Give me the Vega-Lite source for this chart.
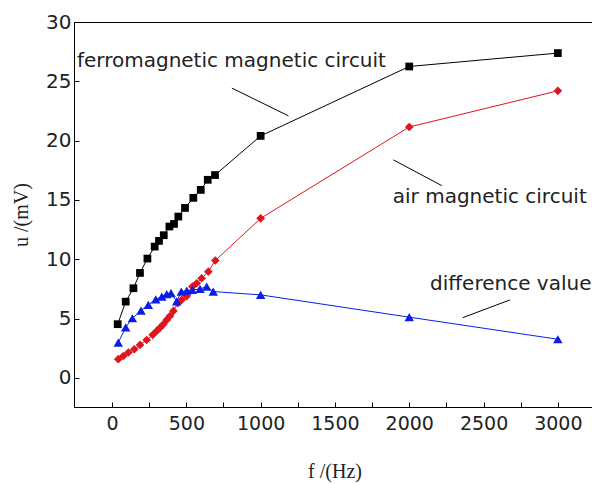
{
  "$schema": "https://vega.github.io/schema/vega-lite/v6.json",
  "autosize": "none",
  "width": 521,
  "height": 385,
  "padding": {"left": 74, "top": 22, "right": 0, "bottom": 77},
  "background": "white",
  "config": {
    "view": {"stroke": "black", "strokeWidth": 1},
    "axis": {
      "domainColor": "black", "tickColor": "black", "labelColor": "#222",
      "labelFont": "DejaVu Sans", "grid": false, "tickSize": -5,
      "titleFont": "Liberation Serif", "titleFontWeight": "normal", "titleColor": "#222", "titleFontSize": 20
    }
  },
  "datasets": {
    "pts": [
      {"f": 38, "u": 4.53, "s": "ferro"}, {"f": 92, "u": 6.43, "s": "ferro"}, {"f": 144, "u": 7.56, "s": "ferro"},
      {"f": 188, "u": 8.85, "s": "ferro"}, {"f": 238, "u": 10.06, "s": "ferro"}, {"f": 287, "u": 11.07, "s": "ferro"},
      {"f": 316, "u": 11.55, "s": "ferro"}, {"f": 348, "u": 12.03, "s": "ferro"}, {"f": 386, "u": 12.76, "s": "ferro"},
      {"f": 417, "u": 12.98, "s": "ferro"}, {"f": 446, "u": 13.6, "s": "ferro"}, {"f": 491, "u": 14.33, "s": "ferro"},
      {"f": 547, "u": 15.18, "s": "ferro"}, {"f": 597, "u": 15.85, "s": "ferro"}, {"f": 644, "u": 16.7, "s": "ferro"},
      {"f": 693, "u": 17.1, "s": "ferro"}, {"f": 1000, "u": 20.4, "s": "ferro"}, {"f": 2000, "u": 26.25, "s": "ferro"},
      {"f": 3000, "u": 27.38, "s": "ferro"},
      {"f": 42, "u": 1.58, "s": "air"}, {"f": 76, "u": 1.85, "s": "air"}, {"f": 110, "u": 2.14, "s": "air"},
      {"f": 150, "u": 2.42, "s": "air"}, {"f": 188, "u": 2.78, "s": "air"}, {"f": 233, "u": 3.2, "s": "air"},
      {"f": 274, "u": 3.63, "s": "air"}, {"f": 301, "u": 3.96, "s": "air"}, {"f": 323, "u": 4.24, "s": "air"},
      {"f": 345, "u": 4.52, "s": "air"}, {"f": 368, "u": 4.89, "s": "air"}, {"f": 390, "u": 5.22, "s": "air"},
      {"f": 413, "u": 5.65, "s": "air"}, {"f": 442, "u": 6.3, "s": "air"}, {"f": 469, "u": 6.58, "s": "air"},
      {"f": 503, "u": 6.9, "s": "air"}, {"f": 541, "u": 7.7, "s": "air"}, {"f": 570, "u": 7.98, "s": "air"},
      {"f": 603, "u": 8.4, "s": "air"}, {"f": 648, "u": 8.96, "s": "air"}, {"f": 695, "u": 9.9, "s": "air"},
      {"f": 1000, "u": 13.45, "s": "air"}, {"f": 2000, "u": 21.15, "s": "air"}, {"f": 3000, "u": 24.2, "s": "air"},
      {"f": 42, "u": 2.98, "s": "diff"}, {"f": 92, "u": 4.27, "s": "diff"}, {"f": 137, "u": 5.03, "s": "diff"},
      {"f": 195, "u": 5.68, "s": "diff"}, {"f": 244, "u": 6.16, "s": "diff"}, {"f": 294, "u": 6.63, "s": "diff"},
      {"f": 335, "u": 6.86, "s": "diff"}, {"f": 368, "u": 7.06, "s": "diff"}, {"f": 397, "u": 7.14, "s": "diff"},
      {"f": 435, "u": 6.45, "s": "diff"}, {"f": 466, "u": 7.28, "s": "diff"}, {"f": 503, "u": 7.36, "s": "diff"},
      {"f": 540, "u": 7.42, "s": "diff"}, {"f": 592, "u": 7.5, "s": "diff"}, {"f": 637, "u": 7.7, "s": "diff"},
      {"f": 681, "u": 7.28, "s": "diff"}, {"f": 1000, "u": 7.0, "s": "diff"}, {"f": 2000, "u": 5.12, "s": "diff"},
      {"f": 3000, "u": 3.26, "s": "diff"}
    ],
    "labels": [
      {"f": -236, "u": 26.2, "t": "ferromagnetic magnetic circuit"},
      {"f": 1889, "u": 14.78, "t": "air magnetic circuit"},
      {"f": 2140, "u": 7.42, "t": "difference value"}
    ],
    "leaders": [
      {"f": 806, "u": 24.43, "f2": 1187, "u2": 22.09},
      {"f": 1893, "u": 18.38, "f2": 2219, "u2": 16.21},
      {"f": 2679, "u": 6.58, "f2": 2360, "u2": 5.08}
    ]
  },
  "layer": [
    {
      "data": {"name": "pts"},
      "mark": {"type": "line", "strokeWidth": 1},
      "encoding": {
        "x": {"field": "f", "type": "quantitative",
              "scale": {"domain": [-256, 3250], "nice": false, "zero": false},
              "axis": {"values": [0, 250, 500, 750, 1000, 1250, 1500, 1750, 2000, 2250, 2500, 2750, 3000],
                       "labelExpr": "datum.value % 500 == 0 ? datum.label : ''",
                       "format": "d", "labelFontSize": 19, "labelPadding": 12, "title": "f /(Hz)", "titlePadding": 28}},
        "y": {"field": "u", "type": "quantitative",
              "scale": {"domain": [-2.45, 30], "nice": false, "zero": false},
              "axis": {"values": [0, 2.5, 5, 7.5, 10, 12.5, 15, 17.5, 20, 22.5, 25, 27.5, 30],
                       "labelExpr": "datum.value % 5 == 0 ? datum.label : ''",
                       "labelFontSize": 20, "labelPadding": 8, "title": "u /(mV)", "titlePadding": 14}},
        "color": {"field": "s", "type": "nominal",
                  "scale": {"domain": ["ferro", "air", "diff"], "range": ["#000000", "#e0141c", "#0a1ee8"]},
                  "legend": null}
      }
    },
    {
      "data": {"name": "pts"},
      "mark": {"type": "point", "filled": true, "opacity": 1},
      "encoding": {
        "x": {"field": "f", "type": "quantitative"},
        "y": {"field": "u", "type": "quantitative"},
        "color": {"field": "s", "type": "nominal", "legend": null},
        "shape": {"field": "s", "type": "nominal",
                  "scale": {"domain": ["ferro", "air", "diff"], "range": ["square", "diamond", "triangle-up"]},
                  "legend": null},
        "size": {"field": "s", "type": "nominal",
                 "scale": {"domain": ["ferro", "air", "diff"], "range": [60, 90, 130]},
                 "legend": null}
      }
    },
    {
      "data": {"name": "leaders"},
      "mark": {"type": "rule", "color": "black", "strokeWidth": 1},
      "encoding": {
        "x": {"field": "f", "type": "quantitative"},
        "y": {"field": "u", "type": "quantitative"},
        "x2": {"field": "f2"},
        "y2": {"field": "u2"}
      }
    },
    {
      "data": {"name": "labels"},
      "mark": {"type": "text", "align": "left", "baseline": "alphabetic", "font": "DejaVu Sans", "fontSize": 20, "color": "#222"},
      "encoding": {
        "x": {"field": "f", "type": "quantitative"},
        "y": {"field": "u", "type": "quantitative"},
        "text": {"field": "t"}
      }
    }
  ]
}
